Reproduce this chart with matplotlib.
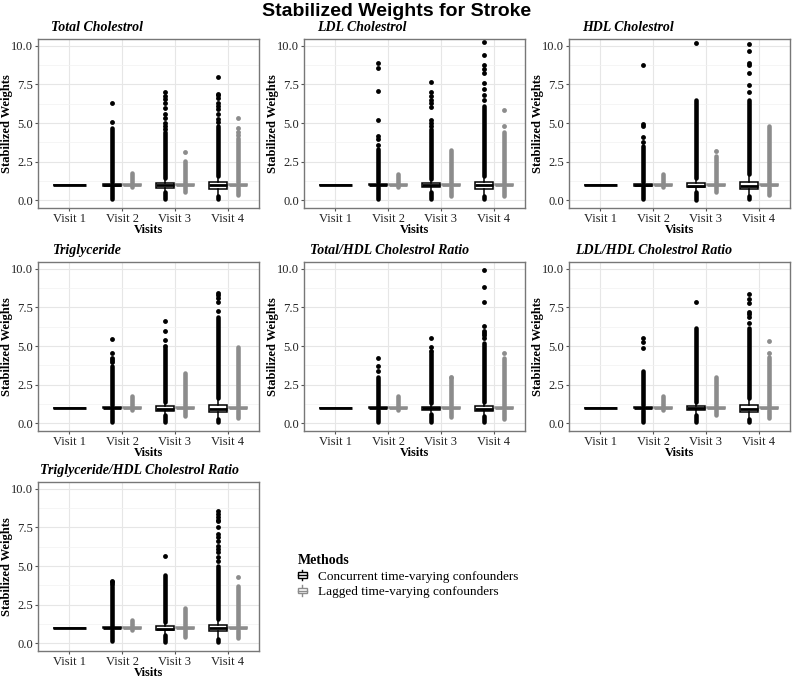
import matplotlib
matplotlib.use("Agg")
import matplotlib.pyplot as plt
from matplotlib.patches import Patch, Rectangle
from matplotlib.lines import Line2D
from matplotlib.legend_handler import HandlerBase

plt.rcParams['font.family'] = ['Liberation Serif', 'DejaVu Serif']

panel_titles = ["Total Cholestrol", "LDL Cholestrol", "HDL Cholestrol", "Triglyceride",
                "Total/HDL Cholestrol Ratio", "LDL/HDL Cholestrol Ratio",
                "Triglyceride/HDL Cholestrol Ratio"]
visits = ["Visit 1", "Visit 2", "Visit 3", "Visit 4"]
methods = ["Concurrent time-varying confounders", "Lagged time-varying confounders"]

# concurrent method: one row per panel, visits 1..4
conc_q1 = [[1, .93, .80, .75], [1, .95, .82, .75], [1, .93, .82, .72], [1, .95, .80, .75],
           [1, .95, .88, .80], [1, .95, .85, .75], [1, .95, .82, .78]]
conc_med = [[1, .98, .95, .95], [1, 1.0, .95, .95], [1, 1.0, .90, .92], [1, 1.0, .92, .93],
            [1, 1.0, .97, .93], [1, 1.0, .95, .92], [1, 1.0, .93, .95]]
conc_q3 = [[1, 1.07, 1.13, 1.18], [1, 1.05, 1.12, 1.20], [1, 1.07, 1.10, 1.20], [1, 1.05, 1.08, 1.20],
           [1, 1.03, 1.05, 1.10], [1, 1.05, 1.10, 1.20], [1, 1.03, 1.10, 1.18]]
conc_wlo = [[1, .85, .55, .35], [1, .88, .55, .35], [1, .85, .55, .30], [1, .88, .55, .35],
            [1, .90, .70, .50], [1, .88, .60, .35], [1, .88, .55, .35]]
conc_whi = [[1, 1.15, 1.40, 1.50], [1, 1.12, 1.35, 1.50], [1, 1.15, 1.38, 1.65], [1, 1.12, 1.35, 1.55],
            [1, 1.08, 1.25, 1.35], [1, 1.12, 1.35, 1.55], [1, 1.08, 1.35, 1.50]]
# dense runs of outliers (visits 2..4), below and above the box
conc_out_lo = [[(.05, .82), (.05, .50), (.05, .30)], [(.05, .85), (.05, .50), (.05, .30)],
               [(.05, .82), (.0, .50), (.05, .28)], [(.05, .85), (.05, .50), (.05, .30)],
               [(.05, .88), (.10, .60), (.05, .45)], [(.10, .85), (.05, .55), (.05, .30)],
               [(.15, .85), (.05, .50), (.05, .30)]]
conc_out_hi = [[(1.18, 4.65), (1.45, 4.40), (1.55, 4.80)], [(1.15, 3.30), (1.40, 4.60), (1.55, 6.10)],
               [(1.18, 3.50), (1.42, 6.50), (1.70, 6.50)], [(1.15, 3.70), (1.40, 4.86), (1.60, 6.90)],
               [(1.10, 3.02), (1.30, 4.54), (1.40, 5.20)], [(1.15, 3.40), (1.40, 6.19), (1.60, 6.20)],
               [(1.10, 3.70), (1.40, 4.45), (1.55, 5.00)]]
conc_sparse = [
    [[5.07, 6.3], [4.6, 4.82, 5.03, 5.35, 5.57, 6.0, 6.27, 6.53, 6.74, 7.0],
     [5.07, 5.29, 5.57, 5.9, 6.1, 6.3, 6.64, 6.79, 6.9, 8.0]],
    [[3.6, 3.96, 4.18, 5.2, 7.07, 8.57, 8.89], [4.8, 5.0, 5.2, 6.06, 6.3, 6.49, 6.75, 7.0, 7.67],
     [6.5, 6.85, 7.2, 7.6, 8.24, 8.5, 8.78, 9.42, 10.28]],
    [[3.8, 4.11, 4.8, 4.93, 8.78], [10.21], [7.0, 7.49, 8.24, 8.74, 8.9, 9.7, 10.13]],
    [[3.95, 4.1, 4.2, 4.53, 5.44], [5.01, 5.4, 5.98, 6.63], [7.3, 7.88, 8.1, 8.3, 8.45]],
    [[3.35, 3.71, 4.25], [4.7, 4.92, 5.55], [5.5, 5.72, 5.85, 5.98, 6.33, 7.84, 8.81, 9.94]],
    [[4.88, 5.27, 5.53], [7.85], [6.5, 6.9, 7.1, 7.2, 7.78, 8.02, 8.39]],
    [[3.85, 3.95, 4.05], [5.66],
     [5.3, 5.6, 5.9, 6.1, 6.3, 6.6, 6.9, 7.1, 7.5, 7.9, 8.0, 8.2, 8.4, 8.6]],
]

# lagged method: visits 2..4
lag_q1 = [[.98, .97, .95], [.98, .97, .96], [.98, .97, .95], [.98, .97, .95],
          [.98, .97, .95], [.98, .97, .95], [.98, .97, .95]]
lag_med = [[1, 1, 1]] * 7
lag_q3 = [[1.02, 1.03, 1.05], [1.02, 1.03, 1.04], [1.02, 1.03, 1.05], [1.02, 1.03, 1.05],
          [1.02, 1.03, 1.05], [1.02, 1.03, 1.05], [1.02, 1.03, 1.05]]
lag_wlo = [[.93, .92, .88], [.93, .92, .90], [.93, .92, .88], [.93, .92, .88],
           [.93, .92, .88], [.93, .92, .88], [.93, .92, .88]]
lag_whi = [[1.07, 1.08, 1.12], [1.07, 1.08, 1.10], [1.07, 1.08, 1.12], [1.07, 1.08, 1.12],
           [1.07, 1.08, 1.12], [1.07, 1.08, 1.12], [1.07, 1.08, 1.12]]
lag_out_lo = [[(.85, .90), (.55, .90), (.35, .85)], [(.85, .90), (.30, .88), (.30, .85)],
              [(.85, .90), (.50, .90), (.35, .88)], [(.85, .90), (.48, .90), (.32, .88)],
              [(.85, .90), (.40, .90), (.30, .88)], [(.85, .90), (.52, .90), (.35, .88)],
              [(.85, .90), (.39, .90), (.35, .88)]]
lag_out_hi = [[(1.10, 1.75), (1.10, 2.55), (1.15, 4.00)], [(1.10, 1.70), (1.10, 3.28), (1.12, 4.45)],
              [(1.10, 1.70), (1.10, 2.89), (1.12, 4.82)], [(1.10, 1.79), (1.10, 3.24), (1.12, 4.92)],
              [(1.10, 1.73), (1.10, 2.90), (1.12, 4.21)], [(1.10, 1.75), (1.10, 3.01), (1.12, 4.30)],
              [(1.10, 1.50), (1.10, 2.30), (1.12, 3.70)]]
lag_sparse = [
    [[], [3.15], [4.2, 4.4, 4.65, 5.3]],
    [[], [], [4.78, 5.82]],
    [[], [3.21], []],
    [[], [], []],
    [[], [3.02], [4.58]],
    [[], [], [4.52, 5.33]],
    [[], [], [4.26]],
]

CONC = "#000000"
LAG = "#8c8c8c"
W, H = 794, 679

fig = plt.figure(figsize=(W / 100, H / 100), dpi=100)
col_left = [38, 304, 569]
row_top = [39, 262, 482]
ax_w, ax_h = 221, 169


def draw_group(ax, pos, q1, med, q3, wlo, whi, out_lo, out_hi, sparse, color, width):
    # outliers first, box on top (ggplot order)
    for lo, hi in (out_lo, out_hi):
        if lo is not None:
            ax.plot([pos, pos], [lo, hi], color=color, lw=3.3, solid_capstyle='round', zorder=2)
    if sparse:
        ax.plot([pos] * len(sparse), sparse, 'o', color=color, ms=3.5, mew=0, zorder=2)
    stats = [dict(q1=q1, med=med, q3=q3, whislo=wlo, whishi=whi, fliers=[])]
    ax.bxp(stats, positions=[pos], widths=width, patch_artist=True, showfliers=False,
           showcaps=False, manage_ticks=False,
           boxprops=dict(facecolor='white', edgecolor=color, lw=1.1, zorder=3),
           medianprops=dict(color=color, lw=2.0, zorder=3),
           whiskerprops=dict(color=color, lw=1.1, zorder=3))


renderer = fig.canvas.get_renderer()
for i, title in enumerate(panel_titles):
    r, c = divmod(i, 3)
    ax = fig.add_axes([col_left[c] / W, 1 - (row_top[r] + ax_h) / H, ax_w / W, ax_h / H])
    ax.set_xlim(0.41, 4.59)
    ax.set_ylim(-0.51, 10.45)
    ax.set_yticks([0, 2.5, 5, 7.5, 10])
    ax.set_yticklabels(["0.0", "2.5", "5.0", "7.5", "10.0"])
    ax.set_yticks([1.25, 3.75, 6.25, 8.75], minor=True)
    ax.set_xticks([1, 2, 3, 4])
    ax.set_xticklabels(visits)
    ax.grid(True, which='major', color='#e6e6e6', lw=0.8, zorder=0)
    ax.grid(True, which='minor', axis='y', color='#f2f2f2', lw=0.5, zorder=0)
    ax.set_axisbelow(True)
    ax.tick_params(which='major', length=2.5, width=0.8, color='#555555', pad=1.2,
                   labelsize=9, labelcolor='#222222')
    ax.tick_params(which='minor', length=0)
    for s in ax.spines.values():
        s.set_color('#777777')
        s.set_linewidth(1.0)
    ax.set_xlabel("Visits", fontsize=9, fontweight='bold', labelpad=-1)
    ax.set_ylabel("Stabilized Weights", fontsize=9, fontweight='bold')
    ax.yaxis.set_label_coords(-25.0 / ax_w, 0.5)

    # visit 1: only the concurrent method, all weights equal
    draw_group(ax, 1, conc_q1[i][0], conc_med[i][0], conc_q3[i][0], conc_wlo[i][0],
               conc_whi[i][0], (None, None), (None, None), [], CONC, 0.62)
    for k in range(3):
        v = k + 2
        draw_group(ax, v - 0.19, conc_q1[i][v - 1], conc_med[i][v - 1], conc_q3[i][v - 1],
                   conc_wlo[i][v - 1], conc_whi[i][v - 1], conc_out_lo[i][k], conc_out_hi[i][k],
                   conc_sparse[i][k], CONC, 0.34)
        draw_group(ax, v + 0.19, lag_q1[i][k], lag_med[i][k], lag_q3[i][k], lag_wlo[i][k],
                   lag_whi[i][k], lag_out_lo[i][k], lag_out_hi[i][k], lag_sparse[i][k], LAG, 0.34)

    # ggplot-style title with hjust around 0.1
    t = ax.text(0, 1 + 11.5 / ax_h, title, transform=ax.transAxes, fontsize=10,
                fontweight='bold', fontstyle='italic', ha='left', va='center')
    tw = t.get_window_extent(renderer).width / ax.bbox.width
    t.set_x(0.1 * (1 - tw))

fig.text(0.5, 1 - 12 / H, "Stabilized Weights for Stroke", ha='center', va='center',
         fontsize=14, fontweight='bold', family=['Liberation Sans', 'DejaVu Sans'])


class BoxKey(HandlerBase):
    def create_artists(self, legend, orig_handle, xd, yd, width, height, fontsize, trans):
        col = orig_handle.get_edgecolor()
        cx = -xd + width / 2
        cy = -yd + height / 2
        bw, bh = width * 0.9, height * 0.5
        rect = Rectangle((cx - bw / 2, cy - bh / 2), bw, bh, facecolor='white',
                         edgecolor=col, lw=1.0, transform=trans)
        med = Line2D([cx - bw / 2, cx + bw / 2], [cy, cy], color=col, lw=1.0, transform=trans)
        up = Line2D([cx, cx], [cy + bh / 2, -yd + height], color=col, lw=1.0, transform=trans)
        dn = Line2D([cx, cx], [-yd, cy - bh / 2], color=col, lw=1.0, transform=trans)
        return [up, dn, rect, med]


handles = [Patch(facecolor='white', edgecolor=CONC), Patch(facecolor='white', edgecolor=LAG)]
leg = fig.legend(handles, methods, title="Methods", loc='upper left',
                 bbox_to_anchor=(286 / W, 1 - 542 / H), frameon=False, fontsize=9.5,
                 handler_map={Patch: BoxKey()}, handlelength=0.7, handleheight=0.9,
                 handletextpad=0.8, labelspacing=0.2, alignment='left',
                 title_fontproperties={'weight': 'bold', 'size': 10})

fig.savefig("out.png", dpi=100)
